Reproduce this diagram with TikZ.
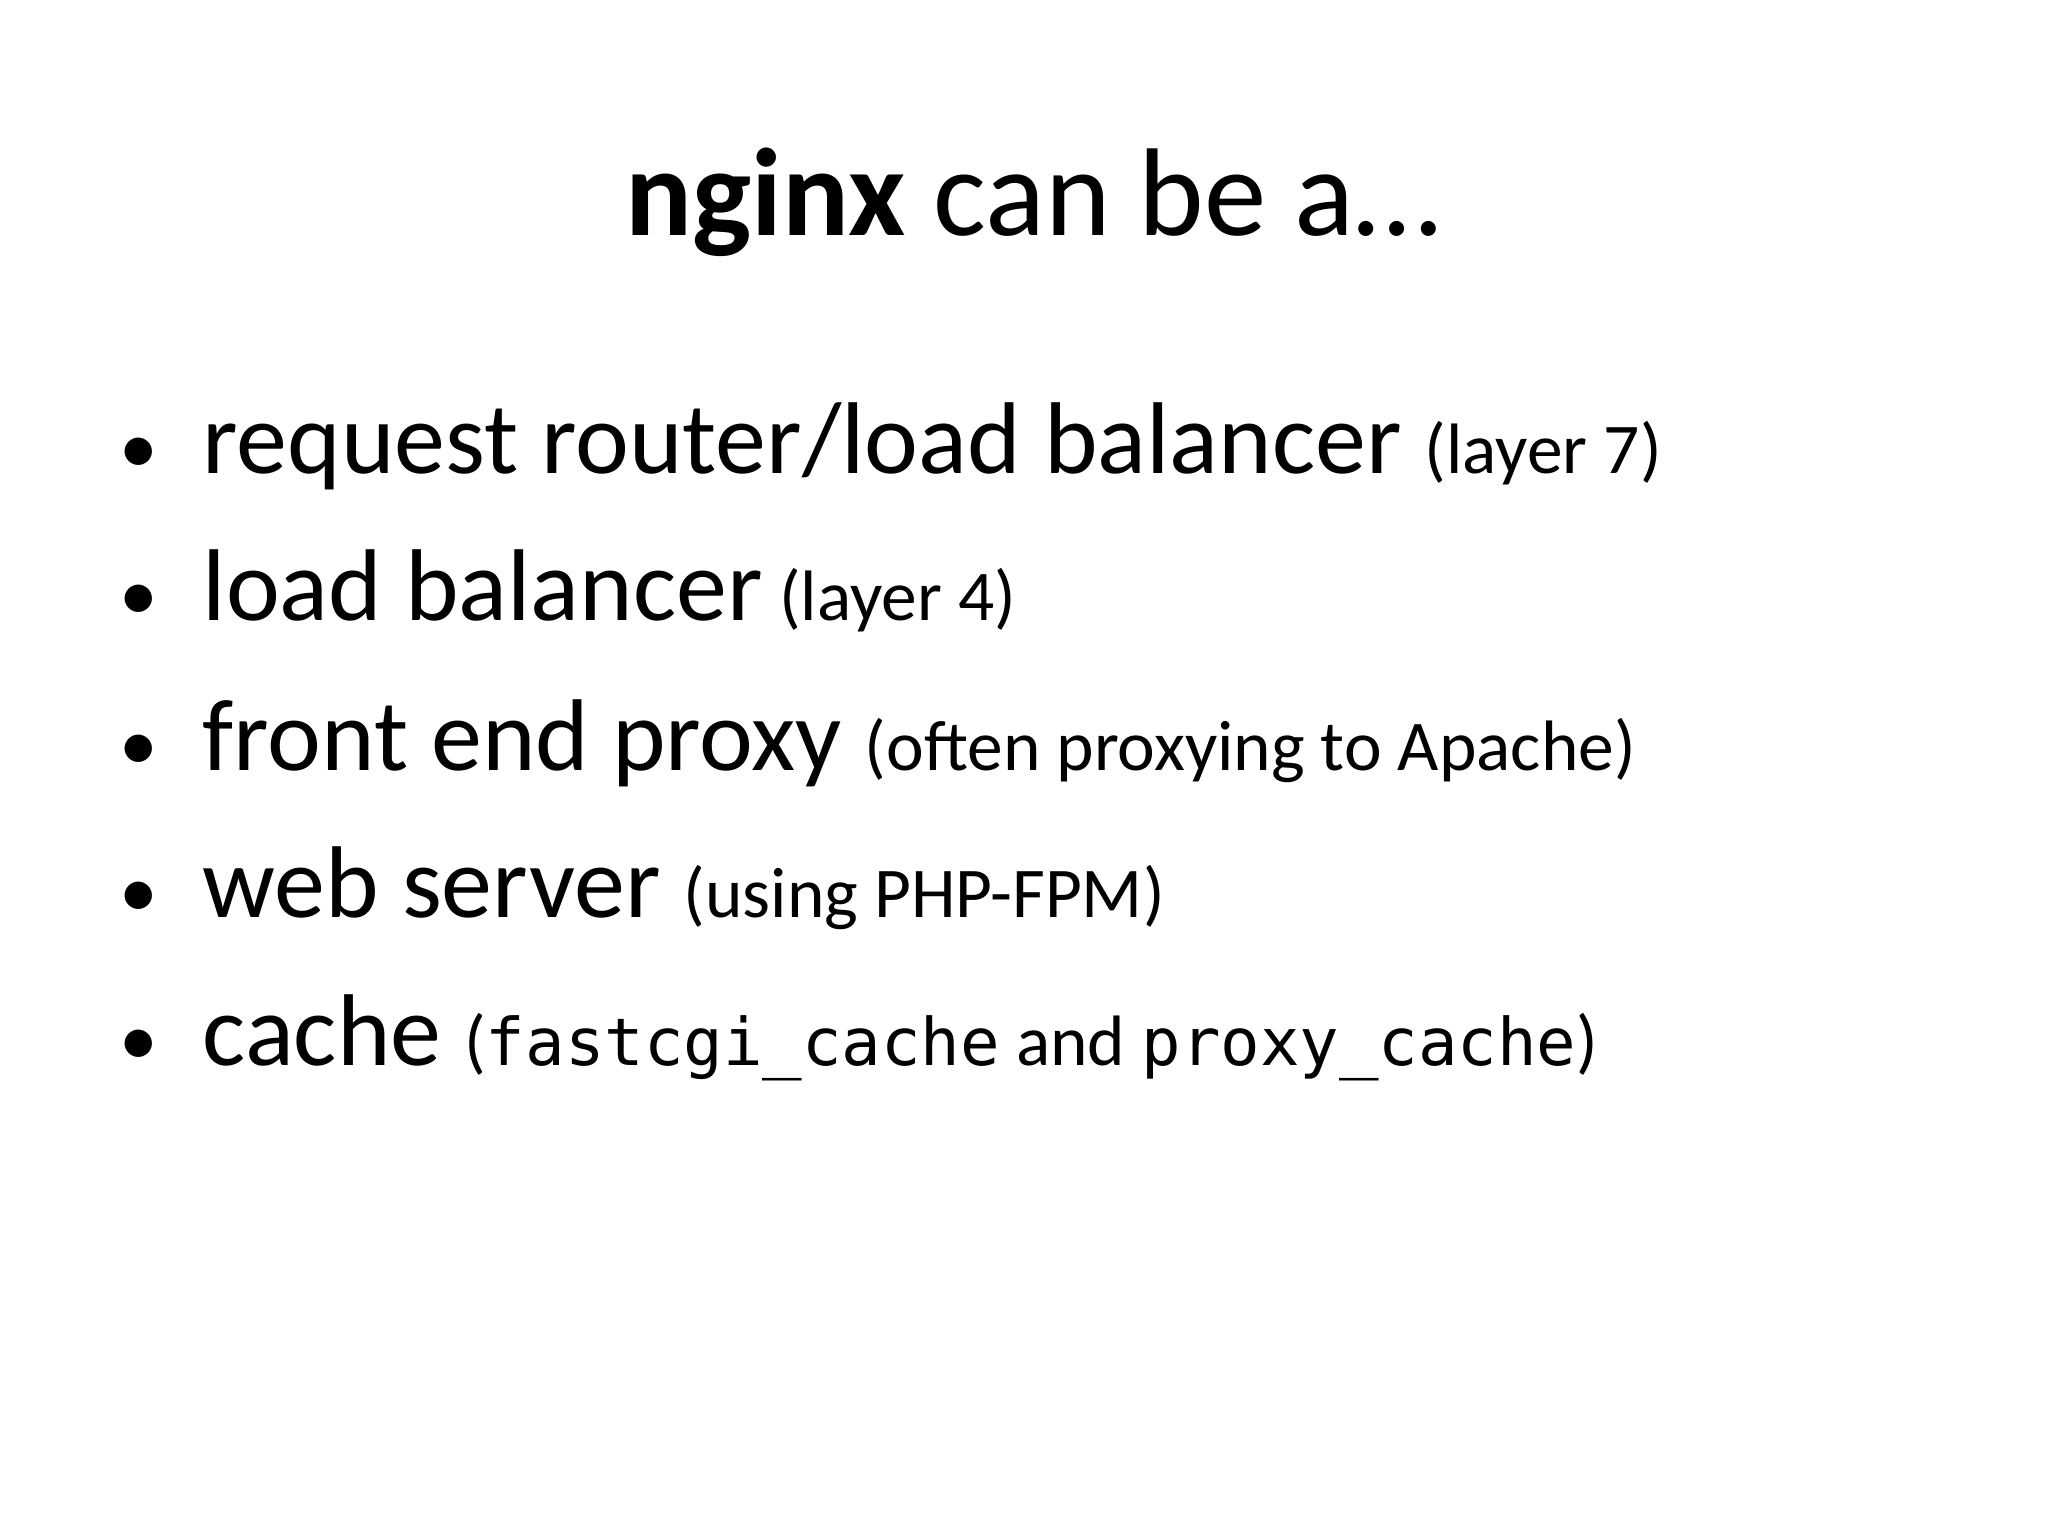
\documentclass[tikz,border=0pt]{standalone}
\usepackage{fontspec}
\setmainfont{Carlito}
\setmonofont{DejaVu Sans Mono}[Scale=0.92]
\begin{document}
\begin{tikzpicture}[x=0.01cm,y=-0.01cm,
  item/.style={anchor=base west,inner sep=0,font=\fontsize{29pt}{32pt}\selectfont},
  bul/.style={anchor=base,inner sep=0,font=\fontsize{22pt}{24pt}\selectfont}]
\useasboundingbox[fill=white] (0,0) rectangle (2048,1536);
\node[anchor=base,inner sep=0,font=\fontsize{35.5pt}{40pt}\selectfont] (title) at (1033,235) {\textbf{nginx} can be a…};
\newcommand\sm{\fontsize{20.3pt}{22pt}\selectfont}
\foreach \y/\n in {473/b1,620/b2,770/b3,917/b4,1065/b5}
  \node[bul] (\n) at (139,\y) {•};
\node[item] (t1) at (202,473) {request router/load balancer {\sm (layer 7)}};
\node[item] (t2) at (202,620) {load balancer{\sm\ (layer 4)}};
\node[item] (t3) at (202,770) {front end proxy {\sm (often proxying to Apache)}};
\node[item] (t4) at (202,917) {web server {\sm (using PHP-FPM)}};
\node[item] (t5) at (202,1065) {cache {\sm (\texttt{fastcgi\_cache} and \texttt{proxy\_cache})}};
\end{tikzpicture}
\end{document}
